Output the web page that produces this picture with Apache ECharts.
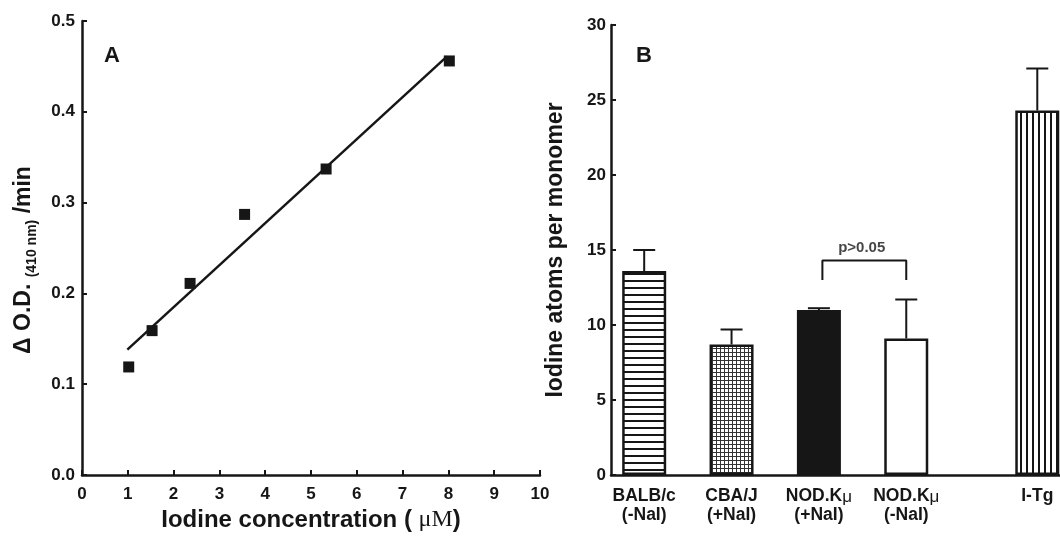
<!DOCTYPE html>
<html>
<head>
<meta charset="utf-8">
<script src="https://cdn.jsdelivr.net/npm/echarts@6/dist/echarts.min.js"></script>
<style>
  html, body { margin: 0; padding: 0; background: #fff; }
  #container { width: 1060px; height: 538px; }
</style>
</head>
<body>
<div id="container"></div>
<script>
// panel A: iodine standard curve
var concX = [1.02, 1.53, 2.36, 3.55, 5.33, 8.02];
var odY = [0.119, 0.159, 0.211, 0.287, 0.337, 0.456];
var fitX = [0.99, 7.97];
var fitY = [0.138, 0.461];
var tickA = ['0.0', '0.1', '0.2', '0.3', '0.4', '0.5'];

// panel B: iodine atoms per monomer
var groups = ['BALB/c|(-NaI)', 'CBA/J|(+NaI)', 'NOD.K|(+NaI)', 'NOD.K|(-NaI)', 'I-Tg|'];
var groupPos = [1, 2, 3, 4, 5.5];
var iodine = [13.6, 8.7, 11.0, 9.1, 24.3];
var iodineSd = [1.4, 1.0, 0.12, 2.6, 2.8];
var bracketX = [3.04, 4.0];
var bracketY = [13.0, 14.3];
var pText = 'p>0.05';

var ink = '#161616';
var font = 'Liberation Sans, Arial, sans-serif';

function makePattern(kind) {
    var c = document.createElement('canvas');
    var ctx = c.getContext('2d');
    if (kind == 'h') {
        c.width = 8; c.height = 7;
        ctx.fillStyle = '#fff'; ctx.fillRect(0, 0, 8, 7);
        ctx.fillStyle = ink; ctx.fillRect(0, 0, 8, 2);
    } else if (kind == 'v') {
        c.width = 6; c.height = 8;
        ctx.fillStyle = '#fff'; ctx.fillRect(0, 0, 6, 8);
        ctx.fillStyle = ink; ctx.fillRect(0, 0, 2, 8);
    } else {
        c.width = 4; c.height = 4;
        ctx.fillStyle = '#fff'; ctx.fillRect(0, 0, 4, 4);
        ctx.fillStyle = '#333'; ctx.fillRect(0, 0, 4, 1); ctx.fillRect(0, 0, 1, 4);
    }
    return { image: c, repeat: 'repeat' };
}
var fills = [makePattern('h'), makePattern('g'), ink, '#fff', makePattern('v')];

var barData = [];
var errData = [];
for (var i = 0; i < groupPos.length; i++) {
    barData.push({ value: [groupPos[i], iodine[i]], itemStyle: { color: fills[i] } });
    errData.push([groupPos[i], iodine[i], iodineSd[i]]);
}

var myChart = echarts.init(document.getElementById('container'));

var axisLine = { show: true, lineStyle: { color: ink, width: 2.5 } };
var tickStyle = { show: true, inside: true, length: 5, lineStyle: { color: ink, width: 2 } };
var labelStyle = { color: ink, fontFamily: font, fontWeight: 'bold', fontSize: 17 };

option = {
    animation: false,
    backgroundColor: '#fff',
    title: [
        { text: 'A', left: 99, top: 40, textStyle: { color: ink, fontFamily: font, fontWeight: 'bold', fontSize: 22 } },
        { text: 'B', left: 631, top: 40, textStyle: { color: ink, fontFamily: font, fontWeight: 'bold', fontSize: 22 } }
    ],
    grid: [
        { left: 82, top: 21, width: 458, bottom: 63 },
        { left: 611, top: 25, right: 0, bottom: 63 }
    ],
    xAxis: [
        {
            gridIndex: 0, type: 'value', min: 0, max: 10, interval: 1,
            axisLine: axisLine, axisTick: tickStyle, splitLine: { show: false },
            axisLabel: Object.assign({ margin: 11 }, labelStyle),
            name: '{a|Iodine concentration ( }{m|\u03bcM}{a|)}',
            nameLocation: 'middle', nameGap: 33,
            nameTextStyle: {
                rich: {
                    a: { color: ink, fontFamily: font, fontWeight: 'bold', fontSize: 24 },
                    m: { color: ink, fontFamily: 'Liberation Serif, serif', fontSize: 24 }
                }
            }
        },
        {
            gridIndex: 1, type: 'value', min: 0.62, max: 5.76,
            axisLine: axisLine, axisTick: { show: false }, splitLine: { show: false },
            axisLabel: {
                customValues: groupPos, margin: 12, lineHeight: 19,
                formatter: function (v) {
                    var idx = groupPos.indexOf(v);
                    if (idx < 0) return '';
                    var parts = groups[idx].split('|');
                    var top = '{a|' + parts[0] + '}' + (parts[0] == 'NOD.K' ? '{m|\u03bc}' : '');
                    return parts[1] ? top + '\n{a|' + parts[1] + '}' : top;
                },
                rich: {
                    a: { color: ink, fontFamily: font, fontWeight: 'bold', fontSize: 17.5, lineHeight: 19 },
                    m: { color: ink, fontFamily: font, fontSize: 17, lineHeight: 19, verticalAlign: 'bottom' }
                }
            }
        }
    ],
    yAxis: [
        {
            gridIndex: 0, type: 'value', min: 0, max: 0.5, interval: 0.1,
            axisLine: axisLine, axisTick: tickStyle, splitLine: { show: false },
            axisLabel: Object.assign({ margin: 7, formatter: function (v) { return tickA[Math.round(v * 10)]; } }, labelStyle),
            name: '{a|\u0394 O.D. }{s|(410 nm)}{a| /min}',
            nameLocation: 'middle', nameRotate: 90, nameGap: 43,
            nameTextStyle: {
                padding: [0, 24, 0, 0],
                rich: {
                    a: { color: ink, fontFamily: font, fontWeight: 'bold', fontSize: 23, lineHeight: 30 },
                    s: { color: ink, fontFamily: font, fontWeight: 'bold', fontSize: 14, lineHeight: 30, verticalAlign: 'bottom' }
                }
            }
        },
        {
            gridIndex: 1, type: 'value', min: 0, max: 30, interval: 5,
            axisLine: axisLine, axisTick: tickStyle, splitLine: { show: false },
            axisLabel: Object.assign({ margin: 5 }, labelStyle),
            name: 'Iodine atoms per monomer',
            nameLocation: 'middle', nameRotate: 90, nameGap: 44,
            nameTextStyle: { color: ink, fontFamily: font, fontWeight: 'bold', fontSize: 23 }
        }
    ],
    series: [
        {
            type: 'line', xAxisIndex: 0, yAxisIndex: 0,
            data: fitX.map(function (x, i) { return [x, fitY[i]]; }),
            symbol: 'none', lineStyle: { color: ink, width: 2.5 }, z: 2
        },
        {
            type: 'scatter', xAxisIndex: 0, yAxisIndex: 0,
            data: concX.map(function (x, i) { return [x, odY[i]]; }),
            symbol: 'rect', symbolSize: 11, itemStyle: { color: ink, opacity: 1 }, z: 3
        },
        {
            type: 'bar', xAxisIndex: 1, yAxisIndex: 1,
            data: barData, barWidth: 44,
            itemStyle: { borderColor: ink, borderWidth: 2.5 }
        },
        {
            type: 'custom', xAxisIndex: 1, yAxisIndex: 1,
            data: errData, encode: { x: 0, y: 1 }, z: 5,
            renderItem: function (params, api) {
                var x = api.value(0);
                var p0 = api.coord([x, api.value(1)]);
                var p1 = api.coord([x, api.value(1) + api.value(2)]);
                var st = { stroke: ink, lineWidth: 2 };
                return {
                    type: 'group',
                    children: [
                        { type: 'line', shape: { x1: p0[0], y1: p0[1], x2: p1[0], y2: p1[1] }, style: st },
                        { type: 'line', shape: { x1: p1[0] - 11, y1: p1[1], x2: p1[0] + 11, y2: p1[1] }, style: st }
                    ]
                };
            }
        },
        {
            type: 'line', xAxisIndex: 1, yAxisIndex: 1,
            data: [[bracketX[0], bracketY[0]], [bracketX[0], bracketY[1]], [bracketX[1], bracketY[1]], [bracketX[1], bracketY[0]]],
            symbol: 'none', lineStyle: { color: ink, width: 2 }
        },
        {
            type: 'scatter', xAxisIndex: 1, yAxisIndex: 1,
            data: [[(bracketX[0] + bracketX[1]) / 2 - 0.03, bracketY[1] + 0.85]],
            symbolSize: 0,
            label: {
                show: true, position: 'inside', formatter: pText,
                color: ink, fontFamily: font, fontWeight: 'bold', fontSize: 15
            }
        }
    ]
};
myChart.setOption(option);
</script>
</body>
</html>
